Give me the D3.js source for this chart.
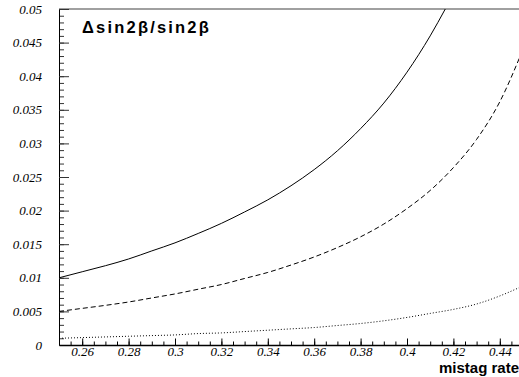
<!DOCTYPE html>
<html>
<head>
<meta charset="utf-8">
<script src="https://cdn.jsdelivr.net/npm/d3@7"></script>
<style>
  body { margin: 0; background: #fff; }
  svg { display: block; }
</style>
</head>
<body>
<div id="chart-area"></div>
<script>
// mistag rate (x) and relative error on sin2beta (y)
const solidX  = [0.25, 0.26, 0.27, 0.28, 0.29, 0.30, 0.31, 0.32, 0.33, 0.34, 0.35, 0.36, 0.37, 0.38, 0.39, 0.40, 0.41, 0.4165];
const solidY  = [0.0100, 0.0109, 0.0118, 0.0128, 0.0140, 0.0152, 0.0166, 0.0181, 0.0198, 0.0216, 0.0237, 0.0261, 0.0289, 0.0322, 0.0360, 0.0406, 0.0460, 0.0500];
const dashedX = [0.25, 0.26, 0.27, 0.28, 0.29, 0.30, 0.31, 0.32, 0.33, 0.34, 0.35, 0.36, 0.37, 0.38, 0.39, 0.40, 0.41, 0.42, 0.43, 0.44, 0.45];
const dashedY = [0.0050, 0.00545, 0.0059, 0.0064, 0.0070, 0.0076, 0.0083, 0.0090, 0.0099, 0.0108, 0.0119, 0.0131, 0.0145, 0.0161, 0.0180, 0.0203, 0.0230, 0.0264, 0.0306, 0.0362, 0.0440];
const dottedX = [0.25, 0.26, 0.27, 0.28, 0.29, 0.30, 0.31, 0.32, 0.33, 0.34, 0.35, 0.36, 0.37, 0.38, 0.39, 0.40, 0.41, 0.42, 0.43, 0.44, 0.45];
const dottedY = [0.0010, 0.0011, 0.0012, 0.0013, 0.0014, 0.0015, 0.0017, 0.0018, 0.0020, 0.0022, 0.0024, 0.0026, 0.0029, 0.0032, 0.0036, 0.0041, 0.0047, 0.0053, 0.0061, 0.0073, 0.0088];
const xTicks = [0.26, 0.28, 0.30, 0.32, 0.34, 0.36, 0.38, 0.40, 0.42, 0.44];
const yTicks = [0, 0.005, 0.01, 0.015, 0.02, 0.025, 0.03, 0.035, 0.04, 0.045, 0.05];

const styleLabels = sel => sel.selectAll("text")
    .style("font-family", "'Liberation Serif', 'DejaVu Serif', serif")
    .style("font-style", "italic")
    .style("font-size", "13px")
    .attr("fill", "#000");

const main = () => {
    const W = 519, H = 377;
    const margin = { left: 59, top: 9, right: -4, bottom: 32 };
    const width = W - margin.left - margin.right;
    const height = H - margin.top - margin.bottom;

    const svg = d3.select("#chart-area").append("svg")
        .attr("width", W)
        .attr("height", H);

    const x = d3.scaleLinear().domain([0.25, 0.45]).range([0, width]);
    const y = d3.scaleLinear().domain([0, 0.05]).range([height, 0]);

    svg.append("defs").append("clipPath").attr("id", "plot-clip")
        .append("rect").attr("width", W - margin.left).attr("height", height);

    const g = svg.append("g").attr("transform", `translate(${margin.left}, ${margin.top})`);

    // top frame line
    g.append("line")
        .attr("x1", 0).attr("x2", W - margin.left)
        .attr("y1", 0).attr("y2", 0)
        .attr("stroke", "#808080").attr("stroke-width", 1.5);

    // y axis, ticks pointing inward
    const minorY = d3.range(0, 0.0505, 0.001);
    g.append("g")
        .call(d3.axisLeft(y).tickValues(minorY).tickSize(-5).tickFormat(""))
        .call(a => a.select(".domain").remove())
        .selectAll("line").attr("stroke", "#333");
    const yAxisG = g.append("g")
        .attr("class", "y-axis")
        .call(d3.axisLeft(y).tickValues(yTicks).tickSizeInner(-10).tickSizeOuter(0).tickPadding(17)
            .tickFormat(d => d === 0 ? "0" : String(+d.toFixed(3))));
    yAxisG.select(".domain").attr("stroke", "#000");
    yAxisG.selectAll(".tick line").attr("stroke", "#333");
    styleLabels(yAxisG);

    // x axis, ticks pointing up
    const minorX = d3.range(0.25, 0.4501, 0.005);
    g.append("g")
        .attr("transform", `translate(0, ${height})`)
        .call(d3.axisBottom(x).tickValues(minorX).tickSize(-3.5).tickFormat(""))
        .call(a => a.select(".domain").remove());
    const xAxisG = g.append("g")
        .attr("class", "x-axis")
        .attr("transform", `translate(0, ${height})`)
        .call(d3.axisBottom(x).tickValues(xTicks).tickSizeInner(-6.5).tickSizeOuter(0).tickPadding(2)
            .tickFormat(d => String(+d.toFixed(2))));
    xAxisG.select(".domain").attr("stroke-width", 1.5);
    styleLabels(xAxisG);

    const line = d3.line()
        .x(d => x(d[0]))
        .y(d => y(d[1]))
        .curve(d3.curveMonotoneX);

    const curves = g.append("g").attr("clip-path", "url(#plot-clip)");
    const series = [
        { xs: solidX, ys: solidY, dash: null },
        { xs: dashedX, ys: dashedY, dash: "5,3" },
        { xs: dottedX, ys: dottedY, dash: "1,2" },
    ];
    series.forEach(s => {
        curves.append("path")
            .datum(d3.zip(s.xs, s.ys))
            .attr("d", line)
            .attr("fill", "none")
            .attr("stroke", "#000")
            .attr("stroke-width", 1)
            .attr("stroke-dasharray", s.dash);
    });

    // title and axis label
    svg.append("text")
        .attr("x", 82).attr("y", 33)
        .attr("font-family", "Liberation Sans, sans-serif")
        .attr("font-weight", "bold")
        .attr("font-size", 16.5)
        .attr("letter-spacing", 2.2)
        .text("Δsin2β/sin2β");

    svg.append("text")
        .attr("x", 519).attr("y", 372.5)
        .attr("text-anchor", "end")
        .attr("font-family", "Liberation Sans, sans-serif")
        .attr("font-weight", "bold")
        .attr("font-size", 15)
        .text("mistag rate");
};

window.onload = main;
</script>
</body>
</html>
